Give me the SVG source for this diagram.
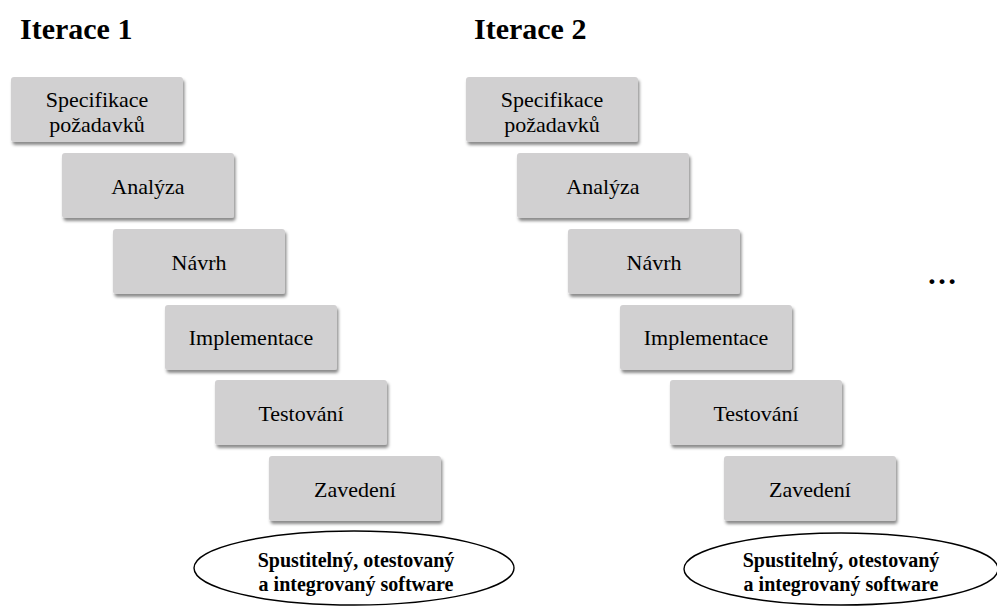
<svg xmlns="http://www.w3.org/2000/svg" width="997" height="608" viewBox="0 0 997 608">
<style>
.title{font-family:"Liberation Serif","Times New Roman",serif;font-weight:bold;font-size:30px;fill:#000}
.box{fill:#d1d0d1;filter:url(#sh)}
.lbl{font-family:"Liberation Serif","Times New Roman",serif;font-size:22px;fill:#000;text-anchor:middle}
.ell{fill:#fff;stroke:#000;stroke-width:1.4}
.elbl{font-family:"Liberation Serif","Times New Roman",serif;font-weight:bold;font-size:20px;fill:#000;text-anchor:middle}
</style>
<defs>
<filter id="sh" x="-10%" y="-10%" width="125%" height="135%">
<feDropShadow dx="1.5" dy="3" stdDeviation="1.5" flood-color="#000" flood-opacity="0.45"/>
</filter>
</defs>
<rect width="997" height="608" fill="#fff"/>
<text class="title" x="20" y="39">Iterace 1</text>
<text class="title" x="474" y="39">Iterace 2</text>

<g id="i1-spec"><rect class="box" x="11" y="77" width="172" height="65" rx="3"/><text class="lbl" x="97" y="107">Specifikace</text><text class="lbl" x="97" y="132">požadavků</text></g>
<g id="i1-analyza"><rect class="box" x="62" y="153" width="172" height="65" rx="3"/><text class="lbl" x="148" y="194">Analýza</text></g>
<g id="i1-navrh"><rect class="box" x="113" y="229" width="172" height="65" rx="3"/><text class="lbl" x="199" y="270">Návrh</text></g>
<g id="i1-impl"><rect class="box" x="165" y="305" width="172" height="65" rx="3"/><text class="lbl" x="251" y="345">Implementace</text></g>
<g id="i1-test"><rect class="box" x="215" y="380" width="172" height="65" rx="3"/><text class="lbl" x="301" y="421">Testování</text></g>
<g id="i1-zaved"><rect class="box" x="269" y="456" width="172" height="65" rx="3"/><text class="lbl" x="355" y="497">Zavedení</text></g>
<g id="i1-result"><ellipse class="ell" cx="354" cy="568" rx="160" ry="37"/><text class="elbl" x="356" y="567">Spustitelný, otestovaný</text><text class="elbl" x="356" y="591">a integrovaný software</text></g>

<g id="i2-spec"><rect class="box" x="466" y="77" width="172" height="65" rx="3"/><text class="lbl" x="552" y="107">Specifikace</text><text class="lbl" x="552" y="132">požadavků</text></g>
<g id="i2-analyza"><rect class="box" x="517" y="153" width="172" height="65" rx="3"/><text class="lbl" x="603" y="194">Analýza</text></g>
<g id="i2-navrh"><rect class="box" x="568" y="229" width="172" height="65" rx="3"/><text class="lbl" x="654" y="270">Návrh</text></g>
<g id="i2-impl"><rect class="box" x="620" y="305" width="172" height="65" rx="3"/><text class="lbl" x="706" y="345">Implementace</text></g>
<g id="i2-test"><rect class="box" x="670" y="380" width="172" height="65" rx="3"/><text class="lbl" x="756" y="421">Testování</text></g>
<g id="i2-zaved"><rect class="box" x="724" y="456" width="172" height="65" rx="3"/><text class="lbl" x="810" y="497">Zavedení</text></g>
<g id="i2-result"><ellipse class="ell" cx="841" cy="569" rx="157" ry="36"/><text class="elbl" x="841" y="567">Spustitelný, otestovaný</text><text class="elbl" x="841" y="591">a integrovaný software</text></g>

<g id="more"><text class="title" x="942" y="284" text-anchor="middle">…</text></g>
</svg>
